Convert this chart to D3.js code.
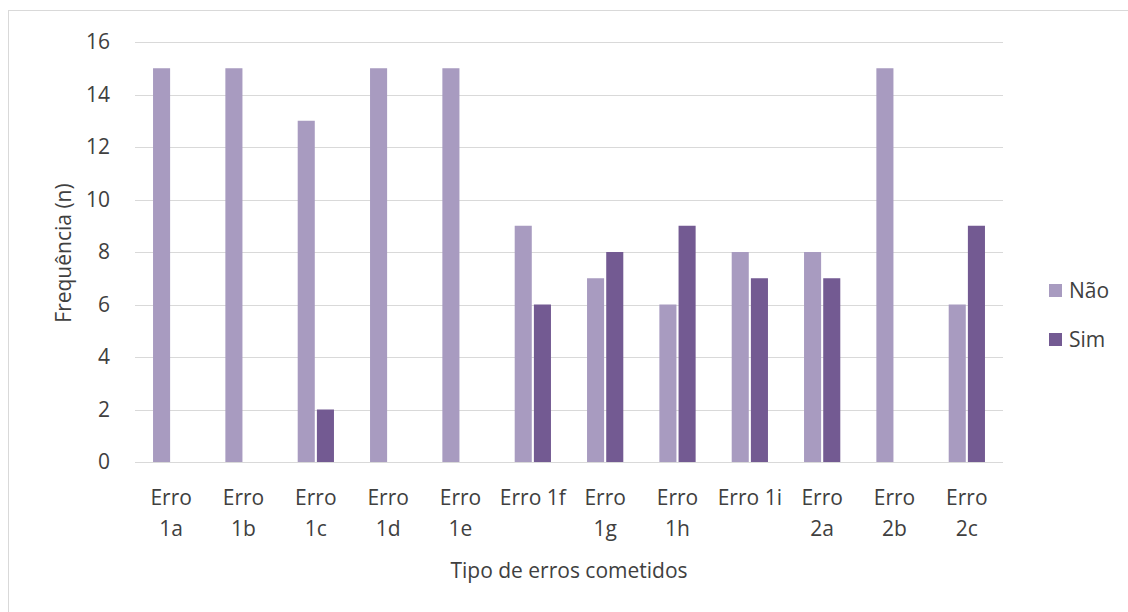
<!DOCTYPE html>
<html>
<head>
<meta charset="utf-8">
<script src="https://cdn.jsdelivr.net/npm/d3@7"></script>
<style>
  html, body { margin: 0; padding: 0; background: #fff; }
  svg text { font-family: "Open Sans", "Liberation Sans", sans-serif; fill: #404040; }
</style>
</head>
<body>
<svg id="chart" width="1128" height="612"></svg>
<script>
// Error types (two-line labels) and counts per answer
const categories = [
  ["Erro", "1a"], ["Erro", "1b"], ["Erro", "1c"], ["Erro", "1d"], ["Erro", "1e"],
  ["Erro 1f"], ["Erro", "1g"], ["Erro", "1h"], ["Erro 1i"], ["Erro", "2a"],
  ["Erro", "2b"], ["Erro", "2c"]
];
const seriesNames = ["Não", "Sim"];
const naoValues = [15, 15, 13, 15, 15, 9, 7, 6, 8, 8, 15, 6];
const simValues = [0, 0, 2, 0, 0, 6, 8, 9, 7, 7, 0, 9];
const yTicks = [0, 2, 4, 6, 8, 10, 12, 14, 16];
const colors = ["#a89bc0", "#735a92"];

const fontSize = "21px";
const svg = d3.select("#chart");

// outer chart frame
svg.append("rect")
  .attr("x", 8.5).attr("y", 10.5)
  .attr("width", 1140).attr("height", 620)
  .attr("fill", "none").attr("stroke", "#d9d9d9").attr("stroke-width", 1);

const plot = { left: 135, right: 1003, top: 42, bottom: 462 };

const x = d3.scaleBand()
  .domain(d3.range(categories.length))
  .range([plot.left, plot.right]);

const y = d3.scaleLinear()
  .domain([0, 16])
  .range([plot.bottom, plot.top]);

const inner = d3.scaleBand()
  .domain([0, 1])
  .range([0, x.bandwidth()])
  .paddingInner(0.11)
  .paddingOuter(0.94);

// gridlines
svg.append("g")
  .selectAll("line")
  .data(yTicks)
  .join("line")
  .attr("x1", plot.left).attr("x2", plot.right)
  .attr("y1", d => Math.round(y(d)) + 0.5).attr("y2", d => Math.round(y(d)) + 0.5)
  .attr("stroke", "#d9d9d9").attr("stroke-width", 1);

// y axis labels
const yAxis = svg.append("g")
  .attr("transform", `translate(${plot.left},0)`)
  .call(d3.axisLeft(y).tickValues(yTicks).tickSize(0).tickPadding(25));
yAxis.select(".domain").remove();
yAxis.selectAll("text")
  .style("font-size", fontSize)
  .style("font-family", "\"Open Sans\", sans-serif")
  .attr("fill", "#404040");

// bars
const groups = svg.append("g")
  .selectAll("g")
  .data(categories.map((c, i) => i))
  .join("g")
  .attr("transform", i => `translate(${x(i)},0)`);

groups.selectAll("rect")
  .data(i => [naoValues[i], simValues[i]].map((v, s) => ({ v, s })))
  .join("rect")
  .attr("x", d => inner(d.s))
  .attr("width", inner.bandwidth())
  .attr("y", d => y(d.v))
  .attr("height", d => y(0) - y(d.v))
  .attr("fill", d => colors[d.s]);

// baseline
svg.append("line")
  .attr("x1", plot.left).attr("x2", plot.right)
  .attr("y1", Math.round(y(0)) + 0.5).attr("y2", Math.round(y(0)) + 0.5)
  .attr("stroke", "#d9d9d9");

// category labels
const catLabels = svg.append("g")
  .selectAll("text")
  .data(categories)
  .join("text")
  .attr("x", (d, i) => x(i) + x.bandwidth() / 2)
  .attr("y", 505)
  .attr("text-anchor", "middle")
  .style("font-size", fontSize);
catLabels.selectAll("tspan")
  .data(d => d)
  .join("tspan")
  .attr("x", function() { return this.parentNode.getAttribute("x"); })
  .attr("dy", (d, j) => j === 0 ? 0 : 31)
  .text(d => d);

// axis titles
svg.append("text")
  .attr("x", (plot.left + plot.right) / 2)
  .attr("y", 578)
  .attr("text-anchor", "middle")
  .style("font-size", fontSize)
  .text("Tipo de erros cometidos");

svg.append("text")
  .attr("transform", "translate(71,253) rotate(-90)")
  .attr("text-anchor", "middle")
  .style("font-size", fontSize)
  .text("Frequência (n)");

// legend
const legend = svg.append("g")
  .selectAll("g")
  .data(seriesNames)
  .join("g")
  .attr("transform", (d, i) => `translate(1049,${284 + i * 49})`);
legend.append("rect")
  .attr("width", 13).attr("height", 13)
  .attr("fill", (d, i) => colors[i]);
legend.append("text")
  .attr("x", 20).attr("y", 14)
  .style("font-size", fontSize)
  .text(d => d);
</script>
</body>
</html>
